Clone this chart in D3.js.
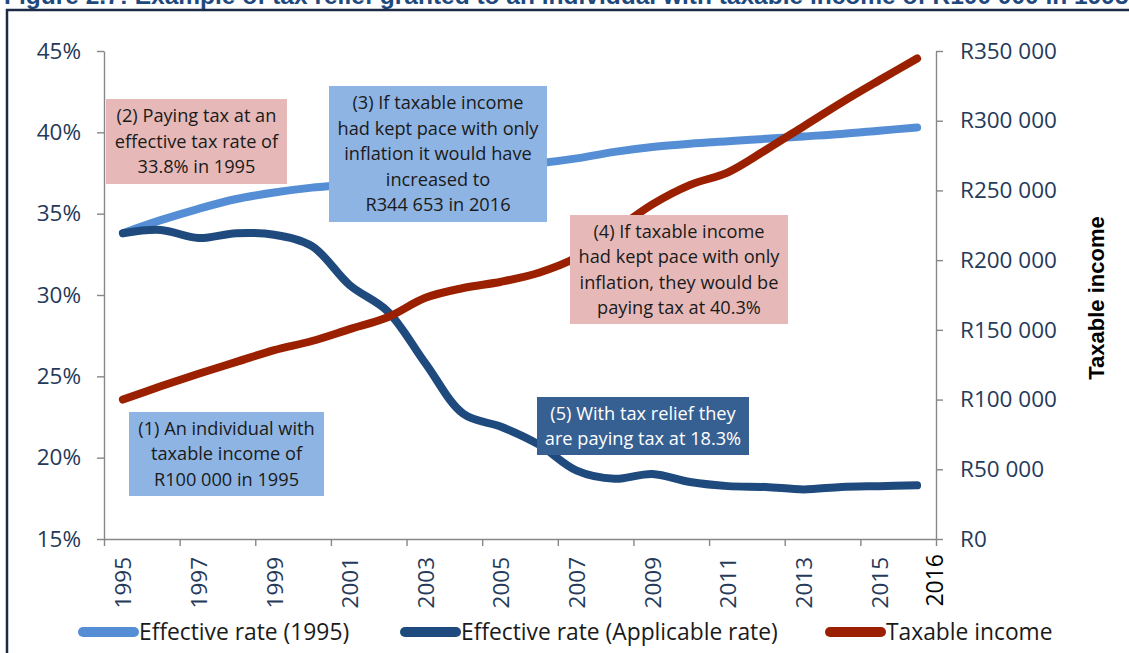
<!DOCTYPE html>
<html>
<head>
<meta charset="utf-8">
<script src="https://cdn.jsdelivr.net/npm/d3@7"></script>
<style>
  html, body { margin: 0; padding: 0; background: #fff; }
  svg { display: block; }
</style>
</head>
<body>
<svg width="1129" height="653"></svg>
<script>
// values
const years = [1995, 1996, 1997, 1998, 1999, 2000, 2001, 2002, 2003, 2004, 2005,
               2006, 2007, 2008, 2009, 2010, 2011, 2012, 2013, 2014, 2015, 2016];
const rate1995 = [33.8, 34.6, 35.3, 35.9, 36.3, 36.6, 36.8, 37.1, 37.4, 37.7, 37.9,
                  38.1, 38.4, 38.8, 39.1, 39.3, 39.45, 39.6, 39.75, 39.9, 40.1, 40.3];
const rateApplicable = [33.8, 34.0, 33.5, 33.8, 33.7, 33.0, 30.6, 29.0, 25.8, 22.7, 21.9,
                        20.8, 19.2, 18.7, 19.0, 18.5, 18.25, 18.2, 18.05, 18.2, 18.25, 18.3];
const taxableIncome = [100000, 109500, 118500, 127000, 135500, 142000, 150500, 159000, 173000, 180000, 184500,
                       191000, 202000, 221000, 240000, 254000, 263000, 279000, 296000, 313000, 329000, 344653];
const pctTicks = [15, 20, 25, 30, 35, 40, 45];
const incomeTicks = [0, 50000, 100000, 150000, 200000, 250000, 300000, 350000];
const yearLabels = [1995, 1997, 1999, 2001, 2003, 2005, 2007, 2009, 2011, 2013, 2015];
const seriesNames = ["Effective rate (1995)", "Effective rate (Applicable rate)", "Taxable income"];
const noteTexts = [
  ["(1) An individual with", "taxable income of", "R100 000 in 1995"],
  ["(2) Paying tax at an", "effective tax rate of", "33.8% in 1995"],
  ["(3) If taxable income", "had kept pace with only", "inflation it would have", "increased to", "R344 653 in 2016"],
  ["(4) If taxable income", "had kept pace with only", "inflation, they would be", "paying tax at 40.3%"],
  ["(5) With tax relief they", "are paying tax at 18.3%"]
];

const colors = ["#558ed5", "#1f4a7e", "#9b2000"];
const font = "'Open Sans', sans-serif";
const tickColor = "#253a5a";
const axisColor = "#878787";

const svg = d3.select("svg");
const plot = {left: 104, right: 936, top: 51, bottom: 539};

// title, mostly cut off at the top of the picture
svg.append("text")
    .attr("x", 4).attr("y", 4)
    .attr("font-family", "'Liberation Sans', Arial, sans-serif")
    .attr("font-weight", "bold")
    .attr("font-size", 24.5)
    .attr("fill", "#1f497d")
    .text("Figure 2.7: Example of tax relief granted to an individual with taxable income of R100 000 in 1995");

// frame
svg.append("path")
    .attr("d", "M7,653 V10 H1129")
    .attr("fill", "none")
    .attr("stroke", "#1c2b45")
    .attr("stroke-width", 2.5);

const x = d3.scalePoint().domain(years).range([plot.left, plot.right]).padding(0.5);
const xEdge = d3.scaleLinear().domain([0, years.length]).range([plot.left, plot.right]);
const yPct = d3.scaleLinear().domain([15, 45]).range([plot.bottom, plot.top]);
const yInc = d3.scaleLinear().domain([0, 350000]).range([plot.bottom, plot.top]);

function styleAxis(g) {
  g.selectAll(".domain, .tick line").attr("stroke", axisColor).attr("stroke-width", 1.4);
  g.selectAll("text").attr("font-family", font).attr("font-size", 22.5).attr("fill", tickColor);
}

svg.append("g")
    .attr("transform", "translate(" + plot.left + ",0)")
    .call(d3.axisLeft(yPct).tickValues(pctTicks).tickSize(7).tickSizeOuter(0).tickPadding(16)
      .tickFormat(d => d + "%"))
    .call(styleAxis);

svg.append("g")
    .attr("transform", "translate(" + plot.right + ",0)")
    .call(d3.axisRight(yInc).tickValues(incomeTicks).tickSize(7).tickSizeOuter(0).tickPadding(17)
      .tickFormat(d => "R" + d3.format(",")(d).replace(/,/g, " ")))
    .call(styleAxis);

// category axis: ticks sit between years, every second year
svg.append("g")
    .attr("transform", "translate(0," + plot.bottom + ")")
    .call(d3.axisBottom(xEdge).tickValues(d3.range(0, years.length + 1, 2)).tickFormat("")
      .tickSize(7).tickSizeOuter(0))
    .call(styleAxis);

const xLabels = svg.append("g")
    .attr("transform", "translate(0," + plot.bottom + ")")
    .call(d3.axisBottom(x).tickValues(yearLabels).tickSize(0))
    .call(styleAxis);
xLabels.select(".domain").remove();
xLabels.selectAll("text")
    .attr("transform", "rotate(-90)")
    .attr("x", -18).attr("y", 0).attr("dy", "0.35em")
    .attr("text-anchor", "end");

// the 2016 label added by hand at the end of the axis
svg.append("text")
    .attr("transform", "translate(" + (xEdge(years.length) - 1) + "," + (plot.bottom + 15) + ") rotate(-90)")
    .attr("dy", "0.35em")
    .attr("text-anchor", "end")
    .attr("font-family", font).attr("font-size", 23).attr("fill", "#000")
    .text("2016");

svg.append("text")
    .attr("transform", "translate(1096,298) rotate(-90)")
    .attr("text-anchor", "middle")
    .attr("dy", "0.35em")
    .attr("font-family", "'Liberation Sans', Arial, sans-serif")
    .attr("font-weight", "bold").attr("font-size", 22)
    .text("Taxable income");

// lines
const pctLine = d3.line()
    .x((d, i) => x(years[i]))
    .y(d => yPct(d))
    .curve(d3.curveCatmullRom.alpha(0.5));
const incLine = d3.line()
    .x((d, i) => x(years[i]))
    .y(d => yInc(d))
    .curve(d3.curveCatmullRom.alpha(0.5));

[[rate1995, pctLine], [rateApplicable, pctLine], [taxableIncome, incLine]].forEach(function(s, i) {
  svg.append("path")
      .datum(s[0])
      .attr("fill", "none")
      .attr("stroke", colors[i])
      .attr("stroke-width", 8)
      .attr("stroke-linejoin", "round")
      .attr("stroke-linecap", "round")
      .attr("d", s[1]);
});

// annotation boxes, drawn over the lines
const noteBoxes = [
  {x: 129, y: 412, w: 195, h: 84, fill: "#8eb4e3", color: "#1a1a1a"},
  {x: 106, y: 99, w: 181, h: 85, fill: "#e6b9b8", color: "#1a1a1a"},
  {x: 329, y: 86, w: 218, h: 136, fill: "#8eb4e3", color: "#1a1a1a"},
  {x: 570, y: 215, w: 218, h: 109, fill: "#e6b9b8", color: "#1a1a1a"},
  {x: 537, y: 397, w: 212, h: 58, fill: "#376092", color: "#ffffff"}
];
const lineGap = 25.5;

noteBoxes.forEach(function(b, i) {
  const g = svg.append("g");
  g.append("rect")
      .attr("x", b.x).attr("y", b.y).attr("width", b.w).attr("height", b.h)
      .attr("fill", b.fill);
  const lines = noteTexts[i];
  const top = b.y + b.h / 2 - (lines.length - 1) * lineGap / 2;
  g.selectAll("text")
      .data(lines)
      .enter().append("text")
      .attr("x", b.x + b.w / 2)
      .attr("y", (d, j) => top + j * lineGap)
      .attr("dy", "0.35em")
      .attr("text-anchor", "middle")
      .attr("font-family", font).attr("font-size", 18.2)
      .attr("fill", b.color)
      .text(d => d);
});

// legend
const legendY = 632;
const legendX = [83, 405, 830];
seriesNames.forEach(function(name, i) {
  svg.append("line")
      .attr("x1", legendX[i]).attr("x2", legendX[i] + 51)
      .attr("y1", legendY).attr("y2", legendY)
      .attr("stroke", colors[i]).attr("stroke-width", 10)
      .attr("stroke-linecap", "round");
  svg.append("text")
      .attr("x", legendX[i] + 56).attr("y", legendY)
      .attr("dy", "0.35em")
      .attr("font-family", font).attr("font-size", 22.8)
      .attr("fill", "#1a1a1a")
      .text(name);
});
</script>
</body>
</html>
